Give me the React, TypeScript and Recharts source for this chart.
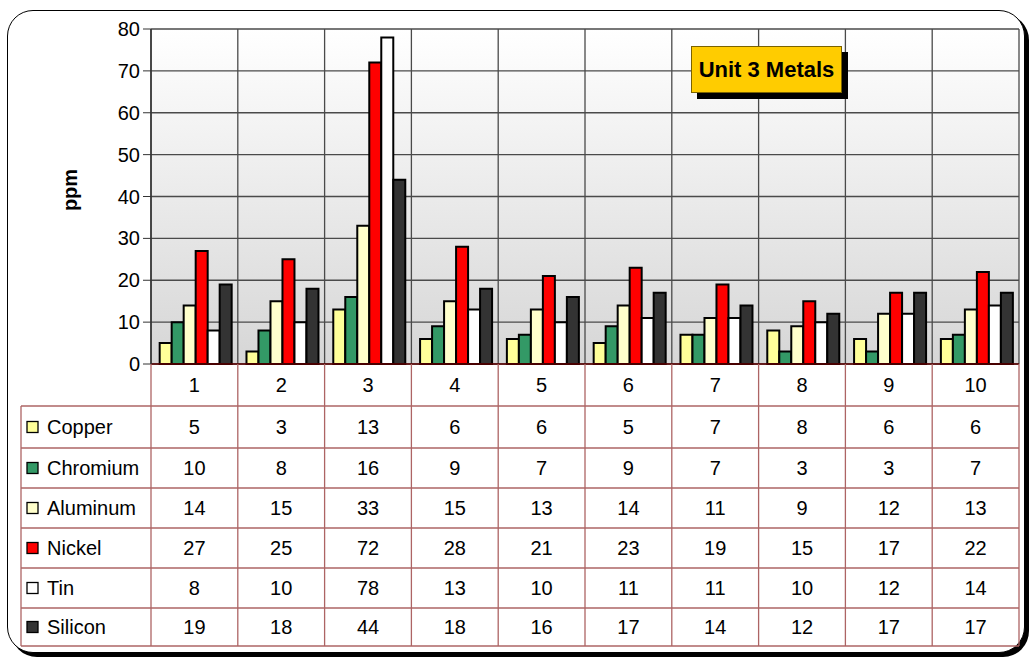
import React from 'react';
import { BarChart, Bar, XAxis, YAxis, CartesianGrid } from 'recharts';

const categories = ['1', '2', '3', '4', '5', '6', '7', '8', '9', '10'];

const copper = [5, 3, 13, 6, 6, 5, 7, 8, 6, 6];
const chromium = [10, 8, 16, 9, 7, 9, 7, 3, 3, 7];
const aluminum = [14, 15, 33, 15, 13, 14, 11, 9, 12, 13];
const nickel = [27, 25, 72, 28, 21, 23, 19, 15, 17, 22];
const tin = [8, 10, 78, 13, 10, 11, 11, 10, 12, 14];
const silicon = [19, 18, 44, 18, 16, 17, 14, 12, 17, 17];

const yTicks = [0, 10, 20, 30, 40, 50, 60, 70, 80];

const series = [
  { key: 'Copper', values: copper, color: '#FFFF99' },
  { key: 'Chromium', values: chromium, color: '#339966' },
  { key: 'Aluminum', values: aluminum, color: '#FFFFCC' },
  { key: 'Nickel', values: nickel, color: '#FF0000' },
  { key: 'Tin', values: tin, color: '#FFFFFF' },
  { key: 'Silicon', values: silicon, color: '#333333' },
];

const data = categories.map((cat, i) => {
  const row: Record<string, string | number> = { cat };
  series.forEach(s => { row[s.key] = s.values[i]; });
  return row;
});

// layout
const W = 1032;
const H = 657;
const PLOT_LEFT = 151;
const PLOT_RIGHT = 1019;
const PLOT_TOP = 29;
const PLOT_BOTTOM = 364;
const TABLE_LEFT = 21;
const ROW_LINES = [406, 448, 488, 528, 568, 608, 646];
const Y_AXIS_W = 40;
const FONT = '"Liberation Sans", Arial, sans-serif';
const TABLE_LINE = '#ad6464';
const COL_W = (PLOT_RIGHT - PLOT_LEFT) / categories.length;
const TXT = 20;

const TableTick = (props: any) => {
  const { x, payload } = props;
  const i = payload.index;
  return (
    <g fontFamily={FONT} fontSize={TXT} fill="#000">
      <text x={x} y={(PLOT_BOTTOM + ROW_LINES[0]) / 2} textAnchor="middle" dominantBaseline="central">
        {categories[i]}
      </text>
      {series.map((s, r) => (
        <text
          key={s.key}
          x={x}
          y={(ROW_LINES[r] + ROW_LINES[r + 1]) / 2}
          textAnchor="middle"
          dominantBaseline="central"
        >
          {s.values[i]}
        </text>
      ))}
    </g>
  );
};

const PpmLabel = () => (
  <text
    x={70}
    y={190}
    transform="rotate(-90 70 190)"
    textAnchor="middle"
    dominantBaseline="central"
    fontFamily={FONT}
    fontSize={20}
    fontWeight="bold"
    fill="#000"
  >
    ppm
  </text>
);

const TableGrid = () => (
  <svg
    width={W}
    height={H}
    style={{ position: 'absolute', left: 0, top: 0, pointerEvents: 'none' }}
  >
    {categories.map((_, i) => (
      <line
        key={'v' + i}
        x1={PLOT_LEFT + i * COL_W}
        x2={PLOT_LEFT + i * COL_W}
        y1={PLOT_BOTTOM}
        y2={ROW_LINES[ROW_LINES.length - 1]}
        stroke={TABLE_LINE}
        strokeWidth={1.3}
      />
    ))}
    <line x1={PLOT_RIGHT} x2={PLOT_RIGHT} y1={PLOT_BOTTOM} y2={ROW_LINES[ROW_LINES.length - 1]} stroke={TABLE_LINE} strokeWidth={1.3} />
    <line x1={TABLE_LEFT} x2={TABLE_LEFT} y1={ROW_LINES[0]} y2={ROW_LINES[ROW_LINES.length - 1]} stroke={TABLE_LINE} strokeWidth={1.3} />
    {ROW_LINES.map(y => (
      <line key={'h' + y} x1={TABLE_LEFT} x2={PLOT_RIGHT} y1={y} y2={y} stroke={TABLE_LINE} strokeWidth={1.3} />
    ))}
    {series.map((s, r) => {
      const cy = (ROW_LINES[r] + ROW_LINES[r + 1]) / 2;
      return (
        <g key={s.key}>
          <rect x={27} y={cy - 5.5} width={11} height={11} fill={s.color} stroke="#000" strokeWidth={1.3} />
          <text x={47} y={cy} fontFamily={FONT} fontSize={TXT} dominantBaseline="central" fill="#000">
            {s.key}
          </text>
        </g>
      );
    })}
  </svg>
);

const App: React.FC = () => {
  return (
    <div style={{ position: 'absolute', left: 0, top: 0, width: W, height: H, background: '#fff' }}>
      <div
        style={{
          position: 'absolute',
          left: 7,
          top: 10,
          width: 1016,
          height: 641,
          border: '1.5px solid #000',
          borderRadius: 26,
          boxShadow: '4px 4px 0 #000',
          background: '#fff',
        }}
      />
      <div style={{ position: 'absolute', left: 0, top: 0 }}>
        <BarChart
          width={W}
          height={H}
          data={data}
          margin={{ top: PLOT_TOP, right: W - PLOT_RIGHT, left: PLOT_LEFT - Y_AXIS_W, bottom: H - ROW_LINES[ROW_LINES.length - 1] }}
          barCategoryGap="10%"
          barGap={0}
        >
          <defs>
            <linearGradient id="plotBg" x1="0" y1="0" x2="0" y2="1">
              <stop offset="0%" stopColor="#ffffff" />
              <stop offset="100%" stopColor="#d6d6d6" />
            </linearGradient>
          </defs>
          <CartesianGrid
            fill="url(#plotBg)"
            stroke="#4a4a4a"
            strokeWidth={1.3}
            verticalCoordinatesGenerator={({ offset }: any) =>
              categories.map((_, i) => offset.left + (i * offset.width) / categories.length).concat(offset.left + offset.width)
            }
          />
          <XAxis
            dataKey="cat"
            height={ROW_LINES[ROW_LINES.length - 1] - PLOT_BOTTOM}
            tickLine={false}
            axisLine={{ stroke: '#600000', strokeWidth: 1.5 }}
            tick={<TableTick />}
            interval={0}
          />
          <YAxis
            width={Y_AXIS_W}
            domain={[0, 80]}
            ticks={yTicks}
            interval={0}
            tickSize={8}
            tickMargin={3}
            axisLine={{ stroke: '#333', strokeWidth: 1.5 }}
            tickLine={{ stroke: '#333' }}
            tick={{ fill: '#000', fontSize: TXT, fontFamily: FONT }}
            label={<PpmLabel />}
          />
          {series.map(s => (
            <Bar
              key={s.key}
              dataKey={s.key}
              fill={s.color}
              stroke="#000"
              strokeWidth={2}
              isAnimationActive={false}
            />
          ))}
        </BarChart>
      </div>
      <TableGrid />
      <div
        style={{
          position: 'absolute',
          left: 691,
          top: 46,
          width: 149,
          height: 45,
          background: '#FFCC00',
          border: '1px solid #7a6200',
          boxShadow: '6px 6px 0 #000',
          fontFamily: FONT,
          fontWeight: 'bold',
          fontSize: 22,
          display: 'flex',
          alignItems: 'center',
          justifyContent: 'center',
          color: '#000',
          whiteSpace: 'nowrap',
        }}
      >
        Unit 3 Metals
      </div>
    </div>
  );
};

export default App;
